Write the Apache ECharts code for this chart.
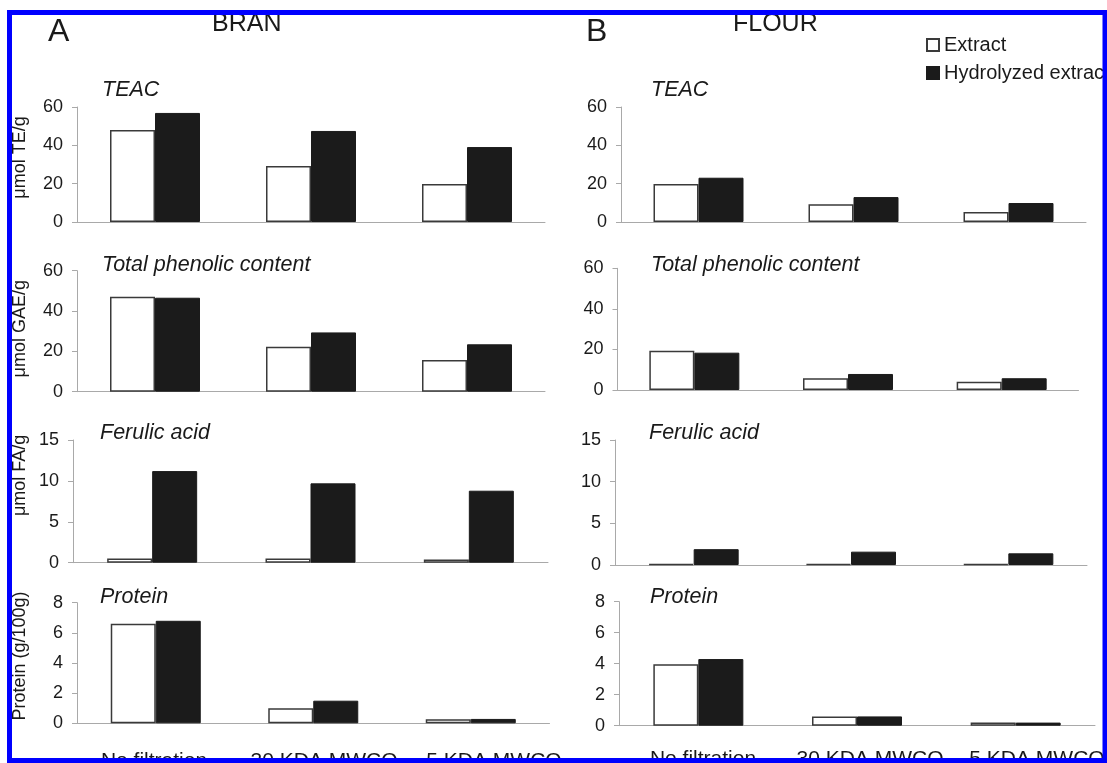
<!DOCTYPE html>
<html>
<head>
<meta charset="utf-8">
<script src="https://cdn.jsdelivr.net/npm/echarts@6/dist/echarts.min.js"></script>
<style>html,body{margin:0;padding:0;background:#fff}#c{width:1107px;height:763px}</style>
</head>
<body>
<div id="c"></div>
<script>
// ---- data ----
const categories = ['No filtration', '30 KDA MWCO', '5 KDA MWCO'];
const seriesNames = ['Extract', 'Hydrolyzed extract'];

const branTeacExtract = [48.0, 29.2, 19.8];
const branTeacHydrolyzed = [56.9, 47.5, 39.1];
const branPhenolicExtract = [47.1, 22.3, 15.7];
const branPhenolicHydrolyzed = [46.6, 29.4, 23.5];
const branFerulicExtract = [0.5, 0.5, 0.4];
const branFerulicHydrolyzed = [11.2, 9.7, 8.8];
const branProteinExtract = [6.6, 1.0, 0.27];
const branProteinHydrolyzed = [6.8, 1.5, 0.29];

const flourTeacExtract = [19.8, 9.2, 5.2];
const flourTeacHydrolyzed = [23.1, 13.0, 9.9];
const flourPhenolicExtract = [19.4, 5.8, 4.1];
const flourPhenolicHydrolyzed = [18.4, 7.9, 5.8];
const flourFerulicExtract = [0.1, 0.1, 0.1];
const flourFerulicHydrolyzed = [1.9, 1.6, 1.4];
const flourProteinExtract = [3.96, 0.6, 0.2];
const flourProteinHydrolyzed = [4.3, 0.6, 0.2];

const teacTicks = [0, 20, 40, 60];
const phenolicTicks = [0, 20, 40, 60];
const ferulicTicks = [0, 5, 10, 15];
const proteinTicks = [0, 2, 4, 6, 8];

const panelTitles = ['TEAC', 'Total phenolic content', 'Ferulic acid', 'Protein'];
const yNames = ['μmol TE/g', 'μmol GAE/g', 'μmol FA/g', 'Protein (g/100g)'];
const columnLetters = ['A', 'B'];
const columnNames = ['BRAN', 'FLOUR'];

// ---- layout ----
const FF = "'Liberation Sans', Arial, Helvetica, sans-serif";
const TXT = '#1a1a1a';
const AX = '#a9a9a9';

const panels = [
  {ext: branTeacExtract, hyd: branTeacHydrolyzed, ticks: teacTicks, yName: yNames[0], namePad: 14,
   grid: {left: 77, top: 107, width: 468, height: 115}, title: panelTitles[0], tx: 102, ty: 79},
  {ext: branPhenolicExtract, hyd: branPhenolicHydrolyzed, ticks: phenolicTicks, yName: yNames[1], namePad: 5,
   grid: {left: 77, top: 270.7, width: 468, height: 121}, title: panelTitles[1], tx: 102, ty: 254},
  {ext: branFerulicExtract, hyd: branFerulicHydrolyzed, ticks: ferulicTicks, yName: yNames[2], namePad: 52,
   grid: {left: 73, top: 440, width: 475, height: 122.7}, title: panelTitles[2], tx: 100, ty: 422},
  {ext: branProteinExtract, hyd: branProteinHydrolyzed, ticks: proteinTicks, yName: yNames[3], namePad: 14,
   grid: {left: 77, top: 602.7, width: 472.5, height: 120.6}, title: panelTitles[3], tx: 100, ty: 586},
  {ext: flourTeacExtract, hyd: flourTeacHydrolyzed, ticks: teacTicks, yName: '',
   grid: {left: 621, top: 107, width: 465, height: 115}, title: panelTitles[0], tx: 651, ty: 79},
  {ext: flourPhenolicExtract, hyd: flourPhenolicHydrolyzed, ticks: phenolicTicks, yName: '',
   grid: {left: 617.5, top: 268.3, width: 461, height: 121.7}, title: panelTitles[1], tx: 651, ty: 254},
  {ext: flourFerulicExtract, hyd: flourFerulicHydrolyzed, ticks: ferulicTicks, yName: '',
   grid: {left: 615, top: 440, width: 472, height: 125}, title: panelTitles[2], tx: 649, ty: 422},
  {ext: flourProteinExtract, hyd: flourProteinHydrolyzed, ticks: proteinTicks, yName: '',
   grid: {left: 619, top: 601.7, width: 476, height: 124}, title: panelTitles[3], tx: 650, ty: 586}
];

const labelGrids = [
  {left: 69, top: 602.7, width: 510, height: 120.6, margin: 27},
  {left: 619.5, top: 601.7, width: 501, height: 124, margin: 23}
];

const grid = [], xAxis = [], yAxis = [], series = [], title = [];

panels.forEach((p, i) => {
  grid.push(Object.assign({containLabel: false, outerBoundsMode: 'none'}, p.grid));
  xAxis.push({
    gridIndex: i, type: 'category', data: categories, boundaryGap: true,
    axisLine: {show: true, lineStyle: {color: AX, width: 1}},
    axisTick: {show: false}, axisLabel: {show: false}, splitLine: {show: false}
  });
  const t = p.ticks;
  yAxis.push({
    gridIndex: i, type: 'value', min: t[0], max: t[t.length - 1], interval: t[1] - t[0],
    axisLine: {show: true, lineStyle: {color: AX, width: 1}},
    axisTick: {show: true, length: 5, lineStyle: {color: AX, width: 1}},
    axisLabel: {fontSize: 18, color: TXT, fontFamily: FF, margin: 14},
    splitLine: {show: false},
    name: p.yName, nameLocation: 'middle', nameRotate: 90,
    nameGap: p.grid.left - 29,
    nameTextStyle: {fontSize: 18, color: TXT, fontFamily: FF, padding: [0, 0, 0, p.namePad || 0]}
  });
  series.push({
    type: 'bar', name: seriesNames[0], xAxisIndex: i, yAxisIndex: i, data: p.ext,
    barWidth: 45, barGap: '0%', silent: true,
    itemStyle: {color: '#ffffff', borderColor: '#3a3a3a', borderWidth: 1.5}
  });
  series.push({
    type: 'bar', name: seriesNames[1], xAxisIndex: i, yAxisIndex: i, data: p.hyd,
    barWidth: 45, barGap: '0%', silent: true,
    itemStyle: {color: '#1b1b1b', borderColor: '#1b1b1b', borderWidth: 1}
  });
  title.push({
    text: p.title, left: p.tx, top: p.ty, padding: 0,
    textStyle: {fontSize: 21.5, fontStyle: 'italic', fontWeight: 'normal', color: TXT, fontFamily: FF}
  });
});

labelGrids.forEach((g, k) => {
  const idx = grid.length;
  grid.push({left: g.left, top: g.top, width: g.width, height: g.height, containLabel: false, outerBoundsMode: 'none'});
  xAxis.push({
    gridIndex: idx, type: 'category', data: categories,
    axisLine: {show: false}, axisTick: {show: false}, splitLine: {show: false},
    axisLabel: {interval: 0, fontSize: 21, color: TXT, fontFamily: FF, margin: g.margin}
  });
  yAxis.push({gridIndex: idx, type: 'value', show: false});
});

title.push({text: columnLetters[0], left: 48, top: 16, padding: 0,
  textStyle: {fontSize: 32, fontWeight: 'normal', color: TXT, fontFamily: FF}});
title.push({text: columnLetters[1], left: 586, top: 16, padding: 0,
  textStyle: {fontSize: 32, fontWeight: 'normal', color: TXT, fontFamily: FF}});
title.push({text: columnNames[0], left: 212, top: 12, padding: 0,
  textStyle: {fontSize: 25, fontWeight: 'normal', color: TXT, fontFamily: FF}});
title.push({text: columnNames[1], left: 733, top: 12, padding: 0,
  textStyle: {fontSize: 25, fontWeight: 'normal', color: TXT, fontFamily: FF}});

const chart = echarts.init(document.getElementById('c'), null, {renderer: 'canvas'});
chart.setOption({
  backgroundColor: '#ffffff',
  animation: false,
  title: title,
  legend: {
    data: seriesNames, orient: 'vertical', left: 926, top: 35, padding: 0,
    itemWidth: 12, itemHeight: 12, itemGap: 8, icon: 'rect',
    textStyle: {fontSize: 20, color: TXT, fontFamily: FF}
  },
  grid: grid, xAxis: xAxis, yAxis: yAxis, series: series,
  graphic: [{
    type: 'rect', silent: true, z: 1000, zlevel: 1,
    shape: {x: 9.5, y: 12.5, width: 1095.5, height: 748},
    style: {fill: 'none', stroke: '#0000ff', lineWidth: 5}
  }]
});
</script>
</body>
</html>
